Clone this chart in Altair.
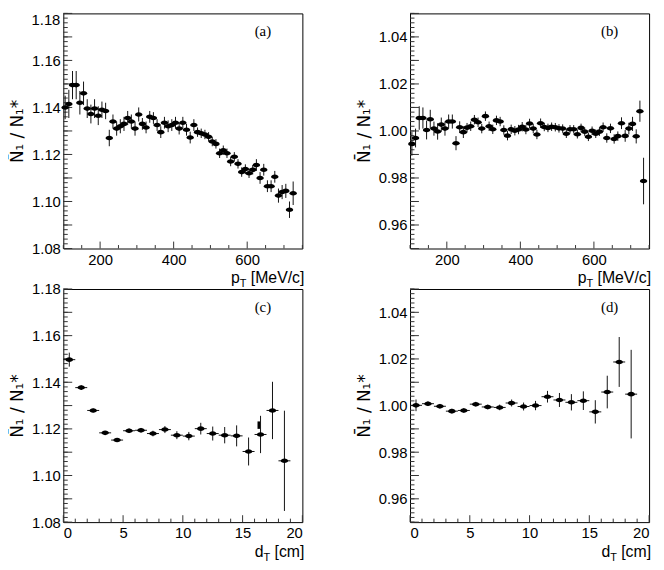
import altair as alt
import pandas as pd

# ---------------- data ----------------
pt_a = [105, 115, 125, 135, 145, 155, 165, 175, 185, 195, 205, 215, 225, 235, 245, 255,
        265, 275, 285, 295, 305, 315, 325, 335, 345, 355, 365, 375, 385, 395, 405, 415,
        425, 435, 445, 455, 465, 475, 485, 495, 505, 515, 525, 535, 545, 555, 565, 575,
        585, 595, 605, 615, 625, 635, 645, 655, 665, 675, 685, 695, 705, 715, 725]
val_a = [1.1400, 1.1415, 1.1495, 1.1495, 1.1420, 1.1460, 1.1395, 1.1372, 1.1395, 1.1365,
         1.1390, 1.1385, 1.1270, 1.1340, 1.1310, 1.1320, 1.1330, 1.1355, 1.1340, 1.1310,
         1.1370, 1.1330, 1.1315, 1.1360, 1.1355, 1.1325, 1.1295, 1.1335, 1.1320, 1.1325,
         1.1335, 1.1310, 1.1335, 1.1305, 1.1272, 1.1325, 1.1295, 1.1290, 1.1285, 1.1275,
         1.1255, 1.1245, 1.1205, 1.1218, 1.1205, 1.1170, 1.1190, 1.1160, 1.1125, 1.1138,
         1.1120, 1.1135, 1.1155, 1.1100, 1.1135, 1.1065, 1.1065, 1.1105, 1.1025, 1.1040,
         1.1045, 1.0965, 1.1035]
err_a = [0.005, 0.006, 0.006, 0.006, 0.005, 0.005, 0.004, 0.004, 0.004, 0.004,
         0.0035, 0.0035, 0.0035, 0.003, 0.003, 0.003, 0.003, 0.003, 0.003, 0.003,
         0.003, 0.0025, 0.0025, 0.0025, 0.0025, 0.0025, 0.0025, 0.0025, 0.0025, 0.0025,
         0.0025, 0.0025, 0.0025, 0.0025, 0.0025, 0.0025, 0.002, 0.002, 0.002, 0.002,
         0.002, 0.002, 0.002, 0.002, 0.002, 0.002, 0.002, 0.002, 0.002, 0.002,
         0.002, 0.002, 0.0025, 0.0025, 0.0025, 0.0025, 0.0025, 0.0025, 0.003, 0.003,
         0.003, 0.0035, 0.005]

pt_b = [105, 115, 125, 135, 145, 155, 165, 175, 185, 195, 205, 215, 225, 235, 245, 255,
        265, 275, 285, 295, 305, 315, 325, 335, 345, 355, 365, 375, 385, 395, 405, 415,
        425, 435, 445, 455, 465, 475, 485, 495, 505, 515, 525, 535, 545, 555, 565, 575,
        585, 595, 605, 615, 625, 635, 645, 655, 665, 675, 685, 695, 705, 715, 725, 735]
val_b = [0.9945, 0.9970, 1.0055, 1.0055, 1.0004, 1.0050, 1.0010, 0.9998, 1.0027, 1.0010,
         1.0040, 1.0040, 0.9948, 1.0016, 0.9995, 1.0014, 1.0020, 1.0048, 1.0037, 1.0010,
         1.0063, 1.0020, 1.0007, 1.0045, 1.0040, 1.0004, 0.9980, 1.0007, 1.0001, 1.0006,
         1.0018, 1.0006, 1.0032, 1.0010, 0.9985, 1.0033, 1.0017, 1.0013, 1.0018, 1.0016,
         1.0011, 1.0010, 0.9988, 1.0007, 1.0007, 0.9986, 1.0013, 0.9997, 0.9975, 1.0001,
         0.9988, 0.9997, 1.0016, 0.9970, 1.0011, 0.9966, 0.9978, 1.0033, 0.9979, 1.0010,
         1.0030, 0.9977, 1.0084, 0.9787]
err_b = [0.005, 0.004, 0.005, 0.0045, 0.004, 0.004, 0.003, 0.0035, 0.003, 0.003,
         0.003, 0.003, 0.003, 0.0025, 0.0025, 0.002, 0.002, 0.002, 0.002, 0.002,
         0.002, 0.002, 0.002, 0.002, 0.002, 0.002, 0.002, 0.002, 0.002, 0.002,
         0.002, 0.002, 0.002, 0.002, 0.002, 0.002, 0.0018, 0.0018, 0.0018, 0.0018,
         0.0018, 0.0018, 0.0018, 0.0018, 0.0018, 0.0018, 0.0018, 0.0018, 0.0018, 0.0018,
         0.0018, 0.0018, 0.002, 0.002, 0.002, 0.002, 0.002, 0.0025, 0.0025, 0.0025,
         0.003, 0.003, 0.0045, 0.0099]

dt = [0.5, 1.5, 2.5, 3.5, 4.5, 5.5, 6.5, 7.5, 8.5, 9.5, 10.5, 11.5, 12.5, 13.5, 14.5,
      15.5, 16.5, 17.5, 18.5]
val_c = [1.1497, 1.1377, 1.1279, 1.1183, 1.1152, 1.1192, 1.1194, 1.1180, 1.1197, 1.1173,
         1.1169, 1.1201, 1.1180, 1.1173, 1.1170, 1.1103, 1.1176, 1.1279, 1.1063]
err_c = [0.003, 0.001, 0.0008, 0.0008, 0.0008, 0.001, 0.001, 0.0012, 0.0015, 0.0017,
         0.0018, 0.0025, 0.003, 0.0035, 0.0045, 0.006, 0.008, 0.0123, 0.0215]
val_d = [1.0001, 1.0008, 0.9997, 0.9976, 0.9979, 1.0006, 0.9994, 0.9992, 1.0011, 0.9996,
         1.0000, 1.0038, 1.0024, 1.0014, 1.0021, 0.9973, 1.0058, 1.0187, 1.0049]
err_d = [0.0025, 0.001, 0.001, 0.001, 0.001, 0.001, 0.001, 0.0012, 0.0015, 0.0017,
         0.002, 0.0025, 0.003, 0.0035, 0.004, 0.005, 0.007, 0.0107, 0.019]

# short stray dark segment visible in panel (c)
stray_c_x = [16.35]
stray_c_lo = [1.1200]
stray_c_hi = [1.1232]

# axes: labels and tick positions
pt_labels = [200, 400, 600]
pt_minor = [100, 150, 250, 300, 350, 450, 500, 550, 650, 700, 750]
dt_labels = [0, 5, 10, 15, 20]
dt_minor = [1, 2, 3, 4, 6, 7, 8, 9, 11, 12, 13, 14, 16, 17, 18, 19]
y_labels_ac = [1.08, 1.10, 1.12, 1.14, 1.16, 1.18]
y_labels_bd = [0.96, 0.98, 1.00, 1.02, 1.04]
y_mid_ac = [1.09, 1.11, 1.13, 1.15, 1.17]
y_mid_bd = [0.95, 0.97, 0.99, 1.01, 1.03, 1.05]
y_minor_ac = [round(1.08 + 0.002 * i, 3) for i in range(51)]
y_minor_bd = [round(0.95 + 0.002 * i, 3) for i in range(51)]

# ---------------- styling ----------------
W = 242
H_TOP = 238
H_BOT = 236
SANS = "Liberation Sans"
SERIF = "Liberation Serif"
LABEL_SIZE = 15
TITLE_SIZE = 16
YTITLE = "N\u0304\u2081 / N\u2081*"
ELLIPSE = "M -1,0 A 1,0.62 0 1,0 1,0 A 1,0.62 0 1,0 -1,0 Z"


def panel(xs, ys, errs, half_bin, xdom, ydom, xlab, xminor, ylab, ymid, yminor,
          tag, xname, xunit, height, hide_top_label=False, stray=None):
    df = pd.DataFrame({
        "x": xs, "y": ys,
        "lo": [v - e for v, e in zip(ys, errs)],
        "hi": [v + e for v, e in zip(ys, errs)],
        "xl": [v - half_bin for v in xs],
        "xh": [v + half_bin for v in xs],
    })
    xscale = alt.Scale(domain=xdom, nice=False, zero=False)
    yscale = alt.Scale(domain=ydom, nice=False, zero=False)
    ylab_axis = ylab[:-1] if hide_top_label else ylab
    xaxis = alt.Axis(values=xlab, format="d", title=None, ticks=False, tickSize=0,
                     domain=False, grid=False, labelFont=SANS, labelFontSize=LABEL_SIZE,
                     labelColor="black", labelPadding=4)
    yaxis = alt.Axis(values=ylab_axis, format=".2f", title=YTITLE, ticks=False, tickSize=0,
                     domain=False, grid=False, labelFont=SANS, labelFontSize=LABEL_SIZE,
                     labelColor="black", labelPadding=3, titleFont="DejaVu Sans",
                     titleFontSize=17, titleFontWeight="normal",
                     titleColor="black", titlePadding=5)

    def X(f):
        return alt.X(f, type="quantitative", scale=xscale, axis=xaxis)

    def Y(f):
        return alt.Y(f, type="quantitative", scale=yscale, axis=yaxis)

    base = alt.Chart(df)
    ebar = base.mark_rule(color="#111", strokeWidth=1).encode(x=X("x"), y=Y("lo"), y2="hi")
    hbar = base.mark_rule(color="#111", strokeWidth=1).encode(x=X("xl"), x2="xh", y=Y("y"))
    pts = base.mark_point(shape=ELLIPSE, filled=True, size=56, color="black",
                          opacity=1).encode(x=X("x"), y=Y("y"))

    ymaj_df = pd.DataFrame({"t": ylab})
    ymid_df = pd.DataFrame({"t": ymid})
    ymin_df = pd.DataFrame({"t": yminor})
    xmaj_df = pd.DataFrame({"t": xlab})
    xmin_df = pd.DataFrame({"t": xminor})
    tick = dict(color="#333", strokeWidth=1)
    t1 = alt.Chart(ymaj_df).mark_rule(**tick).encode(y=Y("t"), x=alt.value(0), x2=alt.value(9))
    t2 = alt.Chart(ymid_df).mark_rule(**tick).encode(y=Y("t"), x=alt.value(0), x2=alt.value(9))
    t3 = alt.Chart(ymin_df).mark_rule(**tick).encode(y=Y("t"), x=alt.value(0), x2=alt.value(4.5))
    t4 = alt.Chart(xmaj_df).mark_rule(**tick).encode(x=X("t"), y=alt.value(height),
                                                     y2=alt.value(height - 7))
    t5 = alt.Chart(xmin_df).mark_rule(**tick).encode(x=X("t"), y=alt.value(height),
                                                     y2=alt.value(height - 3.5))

    tag_df = pd.DataFrame({"s": [tag]})
    tag_mark = alt.Chart(tag_df).mark_text(font=SERIF, fontSize=15, align="center",
                                           baseline="middle", color="black").encode(
        text="s:N", x=alt.value(202), y=alt.value(18))

    unit_w = {"[MeV/c]": 3.39, "[cm]": 1.889}[xunit] * TITLE_SIZE
    sp = 0.278 * TITLE_SIZE
    sub_w = 0.611 * 11
    tb = height + 35
    t_unit = alt.Chart(pd.DataFrame({"s": [xunit]})).mark_text(
        font=SANS, fontSize=TITLE_SIZE, align="right", baseline="alphabetic",
        color="black").encode(text="s:N", x=alt.value(W + 2), y=alt.value(tb))
    t_sub = alt.Chart(pd.DataFrame({"s": ["T"]})).mark_text(
        font=SANS, fontSize=11, align="right", baseline="alphabetic",
        color="black").encode(text="s:N", x=alt.value(W + 2 - unit_w - sp), y=alt.value(tb + 4))
    t_main = alt.Chart(pd.DataFrame({"s": [xname]})).mark_text(
        font=SANS, fontSize=TITLE_SIZE, align="right", baseline="alphabetic",
        color="black").encode(text="s:N", x=alt.value(W + 2 - unit_w - sp - sub_w),
                              y=alt.value(tb))

    layers = [t3, t2, t1, t5, t4, hbar, ebar, pts, tag_mark, t_unit, t_sub, t_main]
    if hide_top_label:
        top_lab = alt.Chart(pd.DataFrame({"s": ["%.2f" % ylab[-1]]})).mark_text(
            font=SANS, fontSize=LABEL_SIZE, align="right", baseline="middle",
            color="black").encode(text="s:N", x=alt.value(-3), y=alt.value(7))
        layers.append(top_lab)
    if stray is not None:
        sdf = pd.DataFrame({"x": stray[0], "lo": stray[1], "hi": stray[2]})
        layers.append(alt.Chart(sdf).mark_rule(color="black", strokeWidth=2.5).encode(
            x=X("x"), y=Y("lo"), y2="hi"))
    return alt.layer(*layers).properties(width=W, height=height)


pa = panel(pt_a, val_a, err_a, 5, [100, 750], [1.08, 1.18], pt_labels, pt_minor,
           y_labels_ac, y_mid_ac, y_minor_ac, "(a)", "p", "[MeV/c]", H_TOP,
           hide_top_label=True)
pb = panel(pt_b, val_b, err_b, 5, [100, 750], [0.95, 1.05], pt_labels, pt_minor,
           y_labels_bd, y_mid_bd, y_minor_bd, "(b)", "p", "[MeV/c]", H_TOP)
pc = panel(dt, val_c, err_c, 0.5, [0, 20], [1.08, 1.18], dt_labels, dt_minor,
           y_labels_ac, y_mid_ac, y_minor_ac, "(c)", "d", "[cm]", H_BOT,
           stray=(stray_c_x, stray_c_lo, stray_c_hi))
pd_ = panel(dt, val_d, err_d, 0.5, [0, 20], [0.95, 1.05], dt_labels, dt_minor,
            y_labels_bd, y_mid_bd, y_minor_bd, "(d)", "d", "[cm]", H_BOT)

chart = alt.concat(pa, pb, pc, pd_, columns=2, spacing={"row": 41, "column": 109},
                   bounds="flush").properties(
    padding={"left": 0, "top": 1, "right": 4, "bottom": 4},
    background="white",
).configure_view(stroke="black", strokeWidth=1)

chart.save("out.html", embed_options={"renderer": "svg", "actions": False})
